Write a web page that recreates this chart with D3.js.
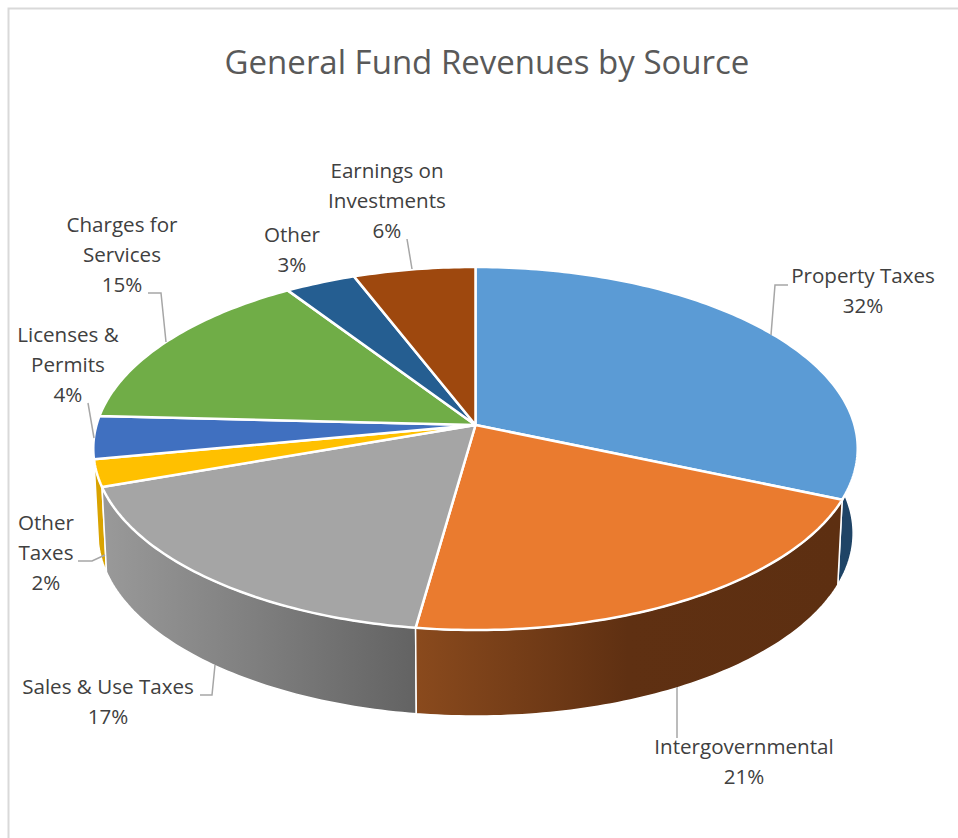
<!DOCTYPE html>
<html>
<head>
<meta charset="utf-8">
<script src="https://d3js.org/d3.v7.min.js"></script>
<style>
body { margin: 0; background: #fff; }
text { font-family: "Open Sans", sans-serif; }
</style>
</head>
<body>
<script>
const WIDTH = 958
const HEIGHT = 838

const TITLE = "General Fund Revenues by Source"
const categories = ["Property Taxes", "Intergovernmental", "Sales & Use Taxes", "Other Taxes",
    "Licenses & Permits", "Charges for Services", "Other", "Earnings on Investments"]
const shares = [31.5, 20.7, 17.4, 2.4, 3.8, 14.95, 3.4, 5.85]
const labelLines = [["Property Taxes"], ["Intergovernmental"], ["Sales & Use Taxes"], ["Other", "Taxes"],
    ["Licenses &", "Permits"], ["Charges for", "Services"], ["Other"], ["Earnings on", "Investments"]]

const topColors = ["#5b9bd5", "#ea7b2f", "#a5a5a5", "#ffc000", "#4070c0", "#70ad47", "#255e91", "#9e480e"]
const wallColors = ["#1f4466", "url(#wall-orange)", "url(#wall-gray)", "#d9a300", "#2c4f86", "#4e7a31", "#1a4266", "#6e320a"]

// label anchor (centre x, first baseline) and leader polyline, same order as categories
const labelAt = [[863, 283], [744, 754], [108, 694], [46, 530], [68, 342], [122, 232], [292, 242], [387, 178]]
const leaders = [
    [[788, 285], [775, 285], [771, 335]],
    [[677, 687], [677, 738]],
    [[215, 665], [212, 695], [200, 695]],
    [[78, 561], [92, 561], [105, 555]],
    [[88, 403], [94, 438]],
    [[148, 293], [161, 293], [166, 342]],
    [],
    [[407, 239], [412, 269]]
]

// the disc is a circle seen in perspective, so the hub sits above the middle of the ellipse
const CX = 475.5, CY = 425
const RX = 379, RY = 178.5, PERSP = 0.1295
const DEPTH = 83, BOTTOM_SHRINK = 0.988
const LINE_HEIGHT = 30

var project = function(angle, level){
    var u = Math.sin(angle), v = Math.cos(angle)
    var w = 1 + PERSP * v
    var x = RX * u / w, y = -RY * v / w
    if (level == 1) return [CX + x * BOTTOM_SHRINK, CY + y + DEPTH + 1.5 * (1 - v)]
    return [CX + x, CY + y]
}

var arcPoints = function(d, level){
    var n = Math.max(2, Math.ceil((d.endAngle - d.startAngle) * 60))
    return d3.range(n + 1).map(i => project(d.startAngle + (d.endAngle - d.startAngle) * i / n, level))
}

var svg = d3.select("body").append("svg").attr("width", WIDTH).attr("height", HEIGHT)
var line = d3.line()
var defs = svg.append("defs")

var addGradient = function(id, x1, x2, stops){
    var g = defs.append("linearGradient").attr("id", id).attr("gradientUnits", "userSpaceOnUse")
        .attr("x1", x1).attr("x2", x2).attr("y1", 0).attr("y2", 0)
    stops.forEach(s => g.append("stop").attr("offset", s[0]).attr("stop-color", s[1]))
}
addGradient("wall-orange", 415, 840, [[0, "#8a4a1d"], [0.5, "#5f3012"], [1, "#5d2f11"]])
addGradient("wall-gray", 105, 415, [[0, "#999999"], [1, "#636363"]])

// chart frame, only top and left edges show in the crop
svg.append("path").attr("d", "M8.5," + HEIGHT + "V8.5H" + WIDTH)
    .attr("fill", "none").attr("stroke", "#d9d9d9").attr("stroke-width", 2)

svg.append("text").attr("x", 487).attr("y", 74).attr("text-anchor", "middle")
    .attr("font-size", 33).attr("fill", "#595959").text(TITLE)

var slices = d3.pie().sort(null).value(d => d).startAngle(0).endAngle(2 * Math.PI)(shares)

// walls back to front
var wallOrder = slices.map((d, i) => i).sort((a, b) =>
    Math.cos((slices[b].startAngle + slices[b].endAngle) / 2) - Math.cos((slices[a].startAngle + slices[a].endAngle) / 2))

svg.append("g").selectAll("path").data(wallOrder).join("path")
    .attr("d", i => line(arcPoints(slices[i], 0).concat(arcPoints(slices[i], 1).reverse())) + "Z")
    .attr("fill", i => wallColors[i])
    .attr("stroke", "#fff").attr("stroke-width", 1.5).attr("stroke-linejoin", "round")

svg.append("g").selectAll("path").data(slices).join("path")
    .attr("d", d => line([[CX, CY]].concat(arcPoints(d, 0))) + "Z")
    .attr("fill", (d, i) => topColors[i])
    .attr("stroke", "#fff").attr("stroke-width", 2.5).attr("stroke-linejoin", "round")

svg.append("g").selectAll("path").data(leaders).join("path")
    .attr("d", d => d.length ? line(d) : null)
    .attr("fill", "none").attr("stroke", "#a6a6a6").attr("stroke-width", 1.5)

var labels = svg.append("g").selectAll("text").data(slices).join("text")
    .attr("text-anchor", "middle").attr("font-size", 20.6).attr("fill", "#404040")

labels.each(function(d, i){
    var rows = labelLines[i].concat(d3.format(".0f")(d.value) + "%")
    d3.select(this).selectAll("tspan").data(rows).join("tspan")
        .attr("x", labelAt[i][0])
        .attr("y", (r, k) => labelAt[i][1] + k * LINE_HEIGHT)
        .text(r => r)
})
</script>
</body>
</html>
